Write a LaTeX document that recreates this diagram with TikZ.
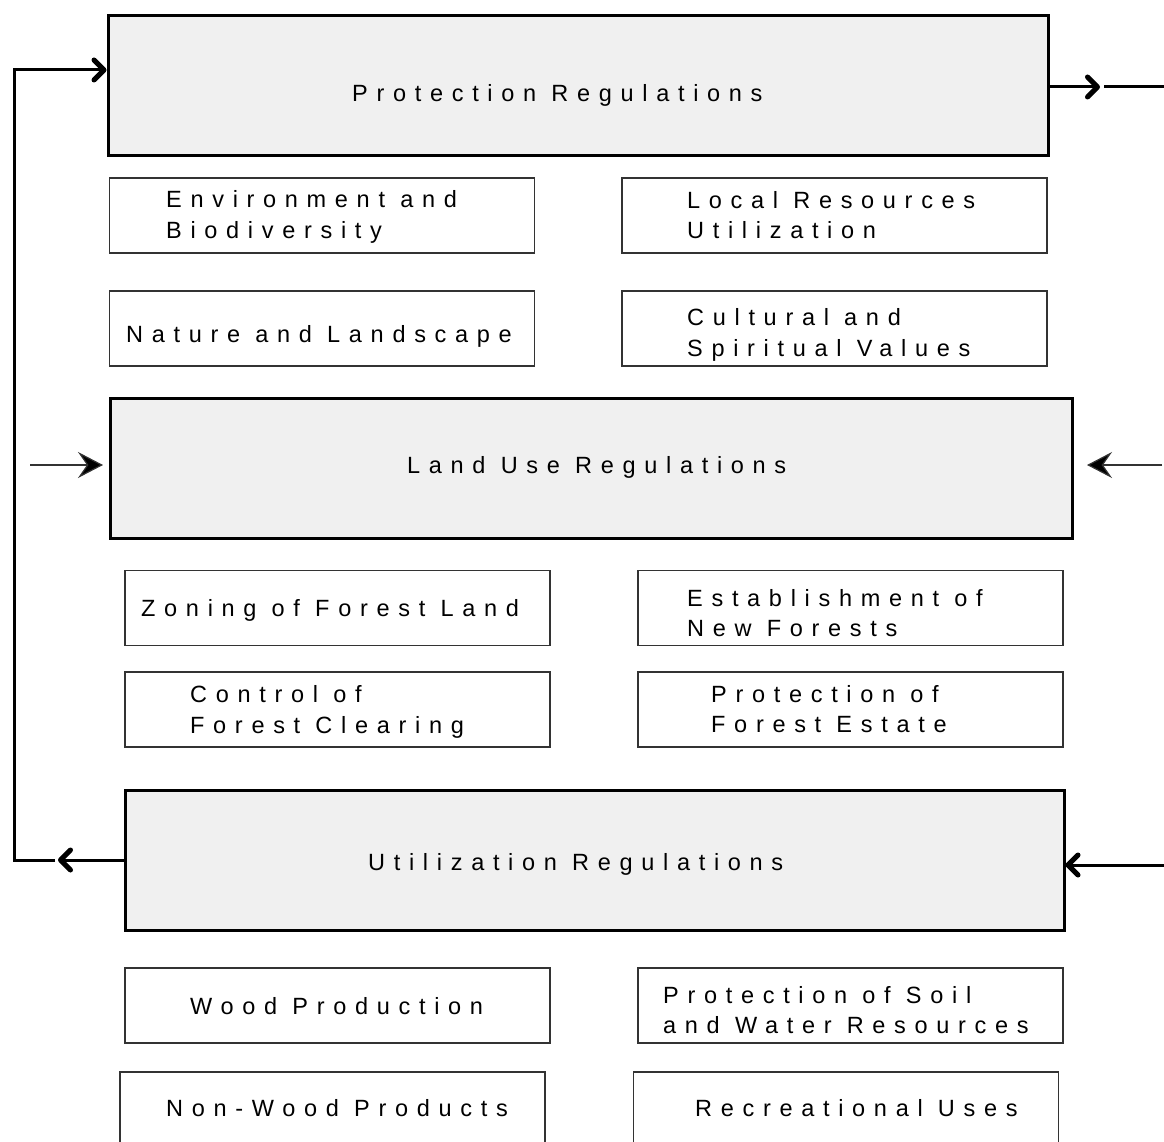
\documentclass[tikz,border=0pt]{standalone}
\usepackage{fontspec}
\newfontfamily\lbl{Liberation Sans}[LetterSpace=37]
\usetikzlibrary{arrows.meta}
\definecolor{panel}{HTML}{F0F0F0}
\definecolor{edge}{HTML}{333333}
\tikzset{
  bigbox/.style={draw=black, line width=3pt, fill=panel, minimum height=140pt, inner sep=0pt},
  smallbox/.style={draw=edge, line width=1.2pt, fill=white, minimum width=425pt, minimum height=75pt, inner sep=0pt},
  txt/.style={font=\lbl\fontsize{23.5}{30.5}\selectfont, align=left, inner sep=0pt, anchor=west},
  heavyline/.style={line width=3pt, draw=black},
  heavytip/.style={line width=3pt, draw=black, -{Straight Barb[length=10pt, width=20pt, line width=5pt, round]}},
  lighttip/.style={line width=1.2pt, draw=edge, -{Stealth[length=25pt, width=26pt, inset=9pt, fill=black]}},
}
\begin{document}
\begin{tikzpicture}[x=1pt, y=-1pt]
\clip (0,0) rectangle (1164,1142);
\fill[white] (0,0) rectangle (1164,1142);

% main regulation panels
\node[bigbox, minimum width=940pt] (prot) at (578,86) {};
\node[txt] (protT) at (352,95) {Protection Regulations};
\node[bigbox, minimum width=962pt] (land) at (591,468) {};
\node[txt] (landT) at (407,467) {Land Use Regulations};
\node[bigbox, minimum width=939pt] (util) at (594.5,860) {};
\node[txt] (utilT) at (368,864) {Utilization Regulations};

% protection topics
\node[smallbox] (env) at (322,215.5) {};
\node[txt] (envT) at (166,217) {Environment and\\Biodiversity};
\node[smallbox] (loc) at (834.5,215.5) {};
\node[txt] (locT) at (687,215) {Local Resources\\Utilization};
\node[smallbox] (nat) at (322,328.5) {};
\node[txt] (natT) at (126,336) {Nature and Landscape};
\node[smallbox] (cul) at (834.5,328.5) {};
\node[txt] (culT) at (687,335) {Cultural and\\Spiritual Values};

% land use topics
\node[smallbox] (zon) at (337.5,608) {};
\node[txt] (zonT) at (141,610) {Zoning of Forest Land};
\node[smallbox] (est) at (850.5,608) {};
\node[txt] (estT) at (687,613) {Establishment of\\New Forests};
\node[smallbox] (con) at (337.5,709.5) {};
\node[txt] (conT) at (190,712) {Control of\\Forest Clearing};
\node[smallbox] (pfe) at (850.5,709.5) {};
\node[txt] (pfeT) at (711,709) {Protection of\\Forest Estate};

% utilization topics
\node[smallbox] (wood) at (337.5,1005.5) {};
\node[txt] (woodT) at (190,1006) {Wood Production};
\node[smallbox] (soil) at (850.5,1005.5) {};
\node[txt] (soilT) at (663,1010) {Protection of Soil\\and Water Resources};
\node[smallbox] (nwp) at (332.5,1109.5) {};
\node[txt] (nwpT) at (166,1108) {Non-Wood Products};
\node[smallbox] (rec) at (846,1109.5) {};
\node[txt] (recT) at (695,1108) {Recreational Uses};

% feedback loop from utilization back to protection
\coordinate (loopTip) at (58,860);
\coordinate (loopGap) at (55,860);
\coordinate (loopBot) at (14,860);
\coordinate (loopTop) at (14,70);
\draw[heavytip] (util.west |- loopTip) -- (loopTip);
\draw[heavyline, line join=miter] (loopGap) -- (loopBot) -- (loopTop) -- ([xshift=-12pt]prot.west |- loopTop);
\draw[heavytip] (loopTop) -- (prot.west |- loopTop);

% outgoing link on the right of protection
\coordinate (outTip) at (1100,87);
\coordinate (outStart) at (1104,87);
\coordinate (outEnd) at (1164,87);
\draw[heavytip] (prot.east |- outTip) -- (outTip);
\draw[heavyline] (outStart) -- (outEnd);

% external inputs to land use
\coordinate (luL) at (30,465);
\coordinate (luLtip) at (103,465);
\coordinate (luR) at (1162,465);
\coordinate (luRtip) at (1087,465);
\draw[lighttip] (luL) -- (luLtip);
\draw[lighttip] (luR) -- (luRtip);

% external input to utilization
\coordinate (utR) at (1164,865);
\draw[heavytip] (utR) -- (util.east |- utR);
\end{tikzpicture}
\end{document}
